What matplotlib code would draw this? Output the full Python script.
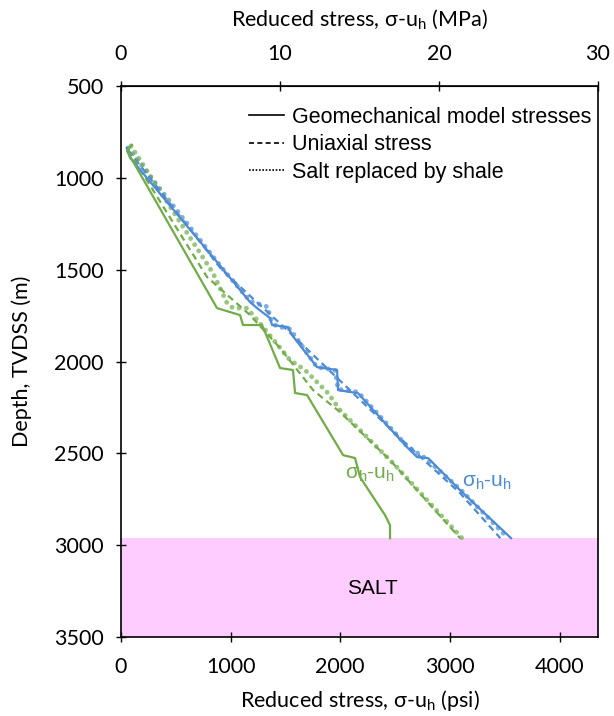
import matplotlib.pyplot as plt
from matplotlib.lines import Line2D

# reduced stress (psi) vs depth (m)
blue_geo_psi = [55, 82, 922, 1177, 1241, 1359, 1378, 1524, 1560, 1788, 1971, 1980, 2162, 2609, 2701, 2801, 3093, 3558]
blue_geo_z = [838, 890, 1491, 1676, 1709, 1763, 1801, 1812, 1856, 2030, 2046, 2155, 2172, 2466, 2520, 2525, 2700, 2961]

blue_uni_psi = [64, 922, 1515, 2546, 3093, 3460]
blue_uni_z = [848, 1502, 1828, 2417, 2716, 2961]

blue_shale_psi = [64, 922, 1177, 1341, 1359, 1414, 1542, 1788, 1953, 1980, 2162, 2609, 2774, 3093, 3531]
blue_shale_z = [838, 1491, 1671, 1703, 1763, 1807, 1823, 2030, 2046, 2150, 2166, 2460, 2525, 2694, 2961]

green_geo_psi = [100, 55, 876, 1086, 1113, 1287, 1451, 1569, 1588, 1697, 2026, 2135, 2181, 2409, 2454, 2454]
green_geo_z = [821, 854, 1709, 1747, 1801, 1801, 2035, 2046, 2171, 2182, 2509, 2525, 2629, 2836, 2890, 2961]

green_uni_psi = [64, 785, 1177, 1451, 1752, 1998, 2454, 3093]
green_uni_z = [848, 1540, 1747, 1926, 2155, 2275, 2536, 2961]

green_shale_psi = [91, 839, 967, 1022, 1150, 1296, 1542, 1679, 1889, 1998, 2500, 3111]
green_shale_z = [827, 1518, 1681, 1709, 1709, 1812, 1992, 2046, 2172, 2264, 2564, 2961]

salt_top = 2960
salt_bottom = 3500

PSI_PER_MPA = 145.038
blue = '#4C8BD6'
green = '#70AD47'
lab_font = ['Lato', 'DejaVu Sans']
arial = ['Liberation Sans', 'DejaVu Sans']
fs = 15.5

fig = plt.figure(figsize=(6.14, 7.16), dpi=100)
ax = fig.add_axes([0.197, 0.110, 0.777, 0.770])

ax.axhspan(salt_top, salt_bottom, color='#FFCCFF', lw=0, zorder=0)
ax.text(2290, 3233, 'SALT', ha='center', va='center', fontsize=15, family=arial)

dotted = dict(linestyle=(0, (0.01, 1.5)), lw=3.5, dash_capstyle='round', alpha=0.7)

ax.plot(blue_shale_psi, blue_shale_z, color=blue, **dotted)
ax.plot(green_shale_psi, green_shale_z, color=green, **dotted)
ax.plot(blue_uni_psi, blue_uni_z, color=blue, lw=1.6, ls=(0, (3, 2)))
ax.plot(green_uni_psi, green_uni_z, color=green, lw=1.6, ls=(0, (3, 2)))
ax.plot(blue_geo_psi, blue_geo_z, color=blue, lw=1.6)
ax.plot(green_geo_psi, green_geo_z, color=green, lw=1.6)

ax.text(3339, 2656, '$\\mathregular{\u03c3_h}$-$\\mathregular{u_h}$', color=blue,
        ha='center', va='center', fontsize=15, family=arial)
ax.text(2272, 2613, '$\\mathregular{\u03c3_h}$-$\\mathregular{u_h}$', color=green,
        ha='center', va='center', fontsize=15, family=arial)

ax.set_xlim(0, 30 * PSI_PER_MPA)
ax.set_ylim(3500, 500)
ax.set_xticks([0, 1000, 2000, 3000, 4000])
ax.set_yticks([500, 1000, 1500, 2000, 2500, 3000, 3500])
ax.tick_params(direction='inout', length=7, width=1, labelsize=fs)
ax.tick_params(axis='x', pad=11)
ax.tick_params(axis='y', pad=9)
for lab in ax.get_xticklabels() + ax.get_yticklabels():
    lab.set_family(lab_font)
for s in ax.spines.values():
    s.set_linewidth(1.2)

ax.set_xlabel('Reduced stress, \u03c3-u$_\\mathregular{h}$ (psi)', fontsize=fs, family=lab_font, labelpad=8)
ax.set_ylabel('Depth, TVDSS (m)', fontsize=fs, family=lab_font, labelpad=16)

top = ax.secondary_xaxis('top', functions=(lambda p: p / PSI_PER_MPA, lambda m: m * PSI_PER_MPA))
top.set_xticks([0, 10, 20, 30])
top.tick_params(direction='inout', length=7, width=1, labelsize=fs, pad=12)
for lab in top.get_xticklabels():
    lab.set_family(lab_font)
top.set_xlabel('Reduced stress, \u03c3-u$_\\mathregular{h}$ (MPa)', fontsize=fs, family=lab_font, labelpad=13)

handles = [Line2D([], [], color='black', lw=1.2),
           Line2D([], [], color='black', lw=1.2, ls=(0, (3, 2))),
           Line2D([], [], color='black', lw=1.2, ls=(0, (1, 1)))]
ax.legend(handles, ['Geomechanical model stresses', 'Uniaxial stress', 'Salt replaced by shale'],
          loc='upper right', bbox_to_anchor=(1.0, 0.974), frameon=False, handlelength=1.6,
          handletextpad=0.4, labelspacing=0.3, borderaxespad=0.1, borderpad=0.2,
          prop={'family': arial, 'size': 15.5})

fig.savefig('out.png', dpi=100)
